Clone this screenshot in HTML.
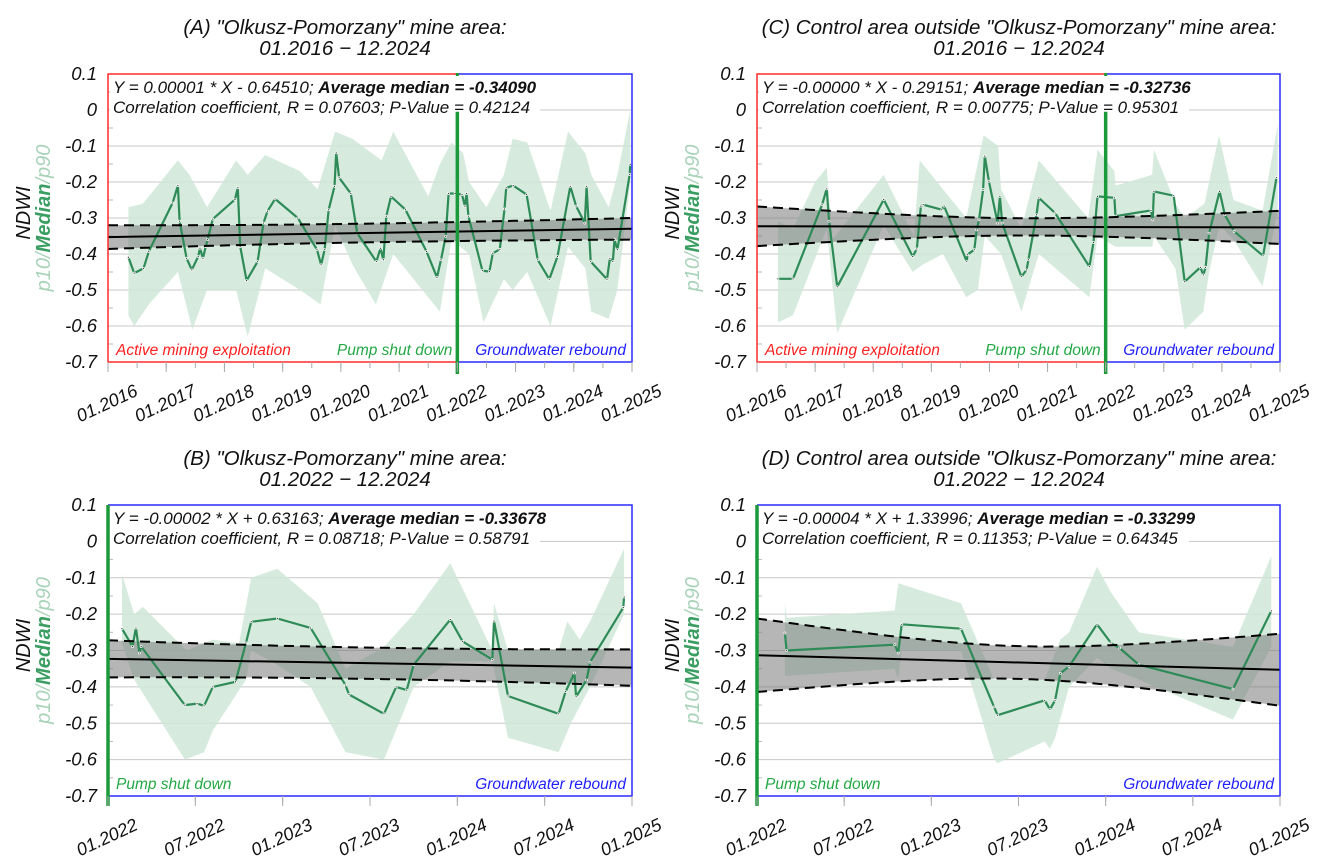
<!DOCTYPE html>
<html><head><meta charset="utf-8">
<style>
html,body{margin:0;padding:0;background:#fff;}
svg{display:block;font-family:"Liberation Sans",Arial,sans-serif;}
</style></head>
<body>
<svg id="chart" width="1325" height="860" viewBox="0 0 1325 860" xmlns="http://www.w3.org/2000/svg"></svg>
<script>
// ===== Panel A data (01.2016 - 12.2024, mine area) =====
const aTimes = [2016.35,2016.45,2016.61,2016.70,2017.11,2017.20,2017.23,2017.35,2017.44,2017.55,2017.58,2017.63,2017.68,2017.71,2017.80,2018.18,2018.23,2018.27,2018.38,2018.57,2018.67,2018.74,2018.87,2019.26,2019.59,2019.66,2019.72,2019.79,2019.89,2019.92,2019.97,2020.17,2020.28,2020.61,2020.68,2020.73,2020.78,2020.86,2021.11,2021.47,2021.65,2021.72,2021.80,2021.85,2021.96,2022.08,2022.13,2022.16,2022.19,2022.43,2022.55,2022.61,2022.73,2022.81,2022.84,2022.96,2023.19,2023.38,2023.58,2023.72,2023.94,2024.04,2024.19,2024.22,2024.29,2024.57,2024.62,2024.67,2024.70,2024.75,2024.96,2024.97];
const aMedian = [-0.409,-0.453,-0.44,-0.393,-0.258,-0.21,-0.309,-0.412,-0.444,-0.407,-0.384,-0.412,-0.379,-0.36,-0.303,-0.249,-0.216,-0.379,-0.474,-0.421,-0.314,-0.281,-0.247,-0.3,-0.388,-0.43,-0.388,-0.277,-0.212,-0.119,-0.188,-0.232,-0.342,-0.421,-0.384,-0.416,-0.295,-0.24,-0.277,-0.393,-0.465,-0.416,-0.351,-0.232,-0.232,-0.235,-0.267,-0.232,-0.295,-0.446,-0.449,-0.398,-0.387,-0.275,-0.216,-0.21,-0.235,-0.416,-0.47,-0.407,-0.212,-0.267,-0.314,-0.212,-0.421,-0.47,-0.412,-0.421,-0.36,-0.388,-0.179,-0.151];
const aP90Times = [2016.35,2016.6,2017.2,2017.4,2017.7,2018.2,2018.4,2018.7,2019.3,2019.6,2019.9,2020.2,2020.7,2020.9,2021.5,2021.7,2021.9,2022.1,2022.2,2022.5,2022.8,2022.95,2023.2,2023.6,2023.9,2024.2,2024.3,2024.6,2024.75,2024.97];
const aP90 = [-0.27,-0.26,-0.14,-0.18,-0.27,-0.14,-0.18,-0.125,-0.17,-0.22,-0.06,-0.08,-0.14,-0.06,-0.24,-0.15,-0.09,-0.12,-0.2,-0.27,-0.18,-0.08,-0.09,-0.28,-0.06,-0.12,-0.18,-0.27,-0.18,0.0];
const aP10Times = [2016.35,2016.45,2016.7,2017.2,2017.45,2017.7,2018.2,2018.4,2018.7,2019.3,2019.65,2019.9,2020.2,2020.6,2020.9,2021.5,2021.7,2021.9,2022.2,2022.45,2022.8,2022.95,2023.2,2023.6,2023.9,2024.2,2024.3,2024.6,2024.75,2024.97];
const aP10 = [-0.57,-0.6,-0.54,-0.45,-0.61,-0.5,-0.5,-0.63,-0.44,-0.5,-0.54,-0.32,-0.43,-0.54,-0.4,-0.52,-0.56,-0.36,-0.4,-0.59,-0.47,-0.5,-0.45,-0.6,-0.38,-0.44,-0.56,-0.58,-0.5,-0.2];
const aReg = [-0.353,-0.330];
const aCI = [0.033,0.026,2020.5,0.030];
// ===== Panel B data (01.2022 - 12.2024, mine area) =====
const bTimes = [2022.08,2022.14,2022.16,2022.18,2022.19,2022.44,2022.51,2022.55,2022.60,2022.73,2022.79,2022.82,2022.97,2023.16,2023.36,2023.38,2023.58,2023.65,2023.71,2023.75,2023.96,2024.03,2024.20,2024.21,2024.29,2024.58,2024.62,2024.67,2024.68,2024.74,2024.76,2024.95,2024.955];
const bMedian = [-0.24,-0.289,-0.238,-0.307,-0.289,-0.45,-0.446,-0.452,-0.4,-0.386,-0.279,-0.221,-0.212,-0.238,-0.395,-0.421,-0.474,-0.4,-0.409,-0.339,-0.215,-0.275,-0.325,-0.219,-0.425,-0.474,-0.413,-0.362,-0.427,-0.381,-0.332,-0.182,-0.153];
const bP90Times = [2022.08,2022.15,2022.2,2022.45,2022.6,2022.75,2022.82,2022.97,2023.2,2023.36,2023.58,2023.75,2023.96,2024.05,2024.2,2024.21,2024.29,2024.58,2024.63,2024.7,2024.76,2024.955];
const bP90 = [-0.09,-0.2,-0.18,-0.3,-0.27,-0.28,-0.1,-0.075,-0.17,-0.35,-0.29,-0.2,-0.06,-0.15,-0.3,-0.17,-0.3,-0.3,-0.22,-0.27,-0.22,-0.02];
const bP10Times = [2022.08,2022.15,2022.44,2022.55,2022.6,2022.79,2022.82,2022.97,2023.16,2023.36,2023.58,2023.75,2023.96,2024.2,2024.29,2024.58,2024.65,2024.76,2024.955];
const bP10 = [-0.28,-0.38,-0.6,-0.58,-0.52,-0.38,-0.3,-0.34,-0.4,-0.58,-0.6,-0.4,-0.33,-0.33,-0.54,-0.58,-0.5,-0.4,-0.2];
const bReg = [-0.323,-0.347];
const bCI = [0.051,0.043,2023.5,0.050];
// ===== Panel C data (01.2016 - 12.2024, control area) =====
const cTimes = [2016.36,2016.62,2017.12,2017.20,2017.24,2017.38,2018.18,2018.68,2018.75,2018.82,2018.86,2019.18,2019.22,2019.61,2019.62,2019.74,2019.78,2019.82,2019.89,2019.92,2019.99,2020.14,2020.18,2020.22,2020.55,2020.64,2020.67,2020.81,2020.85,2021.13,2021.72,2021.79,2021.86,2022.15,2022.17,2022.78,2022.81,2022.83,2023.17,2023.36,2023.63,2023.68,2023.72,2023.78,2023.96,2024.05,2024.21,2024.71,2024.94];
const cMedian = [-0.469,-0.469,-0.263,-0.219,-0.309,-0.491,-0.249,-0.407,-0.386,-0.267,-0.263,-0.277,-0.267,-0.421,-0.402,-0.388,-0.333,-0.305,-0.221,-0.128,-0.198,-0.314,-0.24,-0.314,-0.463,-0.444,-0.416,-0.291,-0.244,-0.286,-0.435,-0.368,-0.24,-0.244,-0.295,-0.279,-0.305,-0.226,-0.238,-0.477,-0.437,-0.458,-0.437,-0.342,-0.226,-0.291,-0.337,-0.405,-0.188];
const cP90Times = [2016.36,2016.62,2017.0,2017.2,2017.3,2018.18,2018.7,2018.8,2019.6,2019.9,2020.15,2020.2,2020.55,2020.85,2021.7,2021.86,2022.15,2022.17,2022.8,2022.83,2023.2,2023.36,2023.7,2023.95,2024.2,2024.7,2024.96];
const cP90 = [-0.31,-0.33,-0.2,-0.16,-0.36,-0.18,-0.35,-0.14,-0.3,-0.07,-0.1,-0.22,-0.33,-0.14,-0.3,-0.11,-0.17,-0.21,-0.18,-0.11,-0.26,-0.3,-0.26,-0.07,-0.25,-0.28,-0.04];
const cP10Times = [2016.36,2016.62,2017.2,2017.38,2018.18,2018.68,2018.85,2019.2,2019.6,2019.8,2019.92,2020.2,2020.55,2020.85,2021.72,2021.86,2022.17,2022.8,2022.83,2023.2,2023.36,2023.68,2023.78,2023.96,2024.2,2024.7,2024.96];
const cP10 = [-0.59,-0.57,-0.33,-0.62,-0.32,-0.45,-0.43,-0.4,-0.52,-0.5,-0.35,-0.4,-0.56,-0.4,-0.52,-0.35,-0.38,-0.38,-0.35,-0.44,-0.61,-0.56,-0.45,-0.32,-0.36,-0.49,-0.28];
const cReg = [-0.323,-0.326];
const cCI = [0.055,0.024,2020.6,0.046];
// ===== Panel D data (01.2022 - 12.2024, control area) =====
const dTimes = [2022.16,2022.17,2022.79,2022.81,2022.83,2023.17,2023.36,2023.38,2023.65,2023.68,2023.71,2023.74,2023.79,2023.95,2024.03,2024.08,2024.19,2024.73,2024.95];
const dMedian = [-0.252,-0.3,-0.284,-0.307,-0.228,-0.24,-0.455,-0.478,-0.437,-0.462,-0.437,-0.363,-0.344,-0.228,-0.279,-0.293,-0.339,-0.406,-0.191];
const dP90Times = [2022.16,2022.17,2022.79,2022.81,2023.17,2023.36,2023.65,2023.74,2023.79,2023.95,2024.03,2024.19,2024.73,2024.95];
const dP90 = [-0.17,-0.21,-0.19,-0.115,-0.17,-0.38,-0.38,-0.27,-0.25,-0.07,-0.14,-0.25,-0.29,-0.04];
const dP10Times = [2022.16,2022.79,2022.81,2022.83,2023.17,2023.36,2023.38,2023.65,2023.68,2023.71,2023.79,2023.95,2024.03,2024.19,2024.73,2024.95];
const dP10 = [-0.37,-0.35,-0.38,-0.3,-0.3,-0.6,-0.61,-0.55,-0.57,-0.54,-0.4,-0.32,-0.35,-0.38,-0.49,-0.29];
const dReg = [-0.313,-0.353];
const dCI = [0.101,0.045,2023.5,0.099];
// ===== Axis tick values =====
const yTicks = [0.1,0,-0.1,-0.2,-0.3,-0.4,-0.5,-0.6,-0.7];
const yTickLabels = ["0.1","0","-0.1","-0.2","-0.3","-0.4","-0.5","-0.6","-0.7"];
const longTicks = [2016,2017,2018,2019,2020,2021,2022,2023,2024,2025];
const longTickLabels = ["01.2016","01.2017","01.2018","01.2019","01.2020","01.2021","01.2022","01.2023","01.2024","01.2025"];
const shortTicks = [2022,2022.5,2023,2023.5,2024,2024.5,2025];
const shortTickLabels = ["01.2022","07.2022","01.2023","07.2023","01.2024","07.2024","01.2025"];

const NS = "http://www.w3.org/2000/svg";
const svg = document.getElementById("chart");
function mk(tag, attrs, parent){
  const e = document.createElementNS(NS, tag);
  for (const k in attrs) e.setAttribute(k, attrs[k]);
  (parent||svg).appendChild(e);
  return e;
}

const panels = [
  {id:"a", x0:108, x1:632, y0:74, y1:362, tx:345, t0:2016, t1:2025, times:aTimes, med:aMedian, upT:aP90Times, up:aP90, loT:aP10Times, lo:aP10, reg:aReg, ci:aCI, ticks:longTicks, tickLabels:longTickLabels, split:2022, long:true,
   title1:'(A) "Olkusz-Pomorzany" mine area:', title2:"01.2016 \u2212 12.2024", eq:"Y = 0.00001 * X - 0.64510; ", avg:"Average median = -0.34090", corr:"Correlation coefficient, R = 0.07603; P-Value = 0.42124"},
  {id:"b", x0:108, x1:632, y0:505, y1:796, tx:345, t0:2022, t1:2025, times:bTimes, med:bMedian, upT:bP90Times, up:bP90, loT:bP10Times, lo:bP10, reg:bReg, ci:bCI, ticks:shortTicks, tickLabels:shortTickLabels, long:false,
   title1:'(B) "Olkusz-Pomorzany" mine area:', title2:"01.2022 \u2212 12.2024", eq:"Y = -0.00002 * X + 0.63163; ", avg:"Average median = -0.33678", corr:"Correlation coefficient, R = 0.08718; P-Value = 0.58791"},
  {id:"c", x0:757, x1:1280, y0:74, y1:362, tx:1019, t0:2016, t1:2025, times:cTimes, med:cMedian, upT:cP90Times, up:cP90, loT:cP10Times, lo:cP10, reg:cReg, ci:cCI, ticks:longTicks, tickLabels:longTickLabels, split:2022, long:true,
   title1:'(C) Control area outside "Olkusz-Pomorzany" mine area:', title2:"01.2016 \u2212 12.2024", eq:"Y = -0.00000 * X - 0.29151; ", avg:"Average median = -0.32736", corr:"Correlation coefficient, R = 0.00775; P-Value = 0.95301"},
  {id:"d", x0:757, x1:1280, y0:505, y1:796, tx:1019, t0:2022, t1:2025, times:dTimes, med:dMedian, upT:dP90Times, up:dP90, loT:dP10Times, lo:dP10, reg:dReg, ci:dCI, ticks:shortTicks, tickLabels:shortTickLabels, long:false,
   title1:'(D) Control area outside "Olkusz-Pomorzany" mine area:', title2:"01.2022 \u2212 12.2024", eq:"Y = -0.00004 * X + 1.33996; ", avg:"Average median = -0.33299", corr:"Correlation coefficient, R = 0.11353; P-Value = 0.64345"}
];

panels.forEach(p => {
  const sx = t => p.x0 + (t - p.t0) / (p.t1 - p.t0) * (p.x1 - p.x0);
  const sy = v => p.y0 + (0.1 - v) / 0.8 * (p.y1 - p.y0);
  const g = mk("g", {});
  
  

  const t1 = mk("text", {x:p.tx, y:p.y0-40, "text-anchor":"middle", "font-size":"20.5", "font-style":"italic", fill:"#111"}, g);
  t1.textContent = p.title1;
  
  
  const t2 = mk("text", {x:p.tx, y:p.y0-19, "text-anchor":"middle", "font-size":"20.5", "font-style":"italic", fill:"#111"}, g);
  t2.textContent = p.title2;
  
  

  yTicks.forEach((v, i) => {
    const l = mk("line", {x1:p.x0, x2:p.x1, y1:sy(v), y2:sy(v), stroke:"#c8c8c8", "stroke-width":1}, g);
    
    
    const lab = mk("text", {x:p.x0-11, y:sy(v)+6, "text-anchor":"end", "font-size":"18.5", "font-style":"italic", fill:"#111"}, g);
    lab.textContent = yTickLabels[i];
    
    
  });
  for (let v = 0.05; v > -0.7; v -= 0.1) {
    mk("line", {x1:p.x0, x2:p.x0+5, y1:sy(v), y2:sy(v), stroke:"#bbb", "stroke-width":1}, g);
  }

  let pts = [];
  p.upT.forEach((t, i) => pts.push(sx(t).toFixed(1) + "," + sy(p.up[i]).toFixed(1)));
  for (let i = p.loT.length - 1; i >= 0; i--) pts.push(sx(p.loT[i]).toFixed(1) + "," + sy(p.lo[i]).toFixed(1));
  const band = mk("polygon", {points:pts.join(" "), fill:"#cfe8d8", "fill-opacity":"0.85"}, g);
  
  

  const hw = t => {
    const [L, m, tc, R] = p.ci;
    const e = t < tc ? L : R;
    const ref = t < tc ? p.t0 : p.t1;
    const f = (t - tc) / (ref - tc);
    return Math.sqrt(m*m + (e*e - m*m) * f * f);
  };
  const fit = t => p.reg[0] + (p.reg[1] - p.reg[0]) * (t - p.t0) / (p.t1 - p.t0);
  const N = 40, upP = [], loP = [];
  for (let k = 0; k <= N; k++) {
    const t = p.t0 + (p.t1 - p.t0) * k / N;
    upP.push(sx(t).toFixed(1) + "," + sy(fit(t) + hw(t)).toFixed(1));
    loP.push(sx(t).toFixed(1) + "," + sy(fit(t) - hw(t)).toFixed(1));
  }
  const ciFill = mk("polygon", {points:upP.concat(loP.slice().reverse()).join(" "), fill:"#7a7a7a", "fill-opacity":"0.55"}, g);
  
  

  const mp = p.times.map((t, i) => sx(t).toFixed(1) + "," + sy(p.med[i]).toFixed(1)).join(" ");
  const ml = mk("polyline", {points:mp, fill:"none", stroke:"#2e8b57", "stroke-width":2.2, "stroke-linejoin":"round"}, g);
  
  
  p.times.forEach((t, i) => {
    const d = mk("circle", {cx:sx(t), cy:sy(p.med[i]), r:1.4, fill:"#fff"}, g);
    
    
    mk("circle", {cx:sx(t), cy:sy(p.med[i]), r:0.6, fill:"#222"}, g);
  });

  const ciU = mk("polyline", {points:upP.join(" "), fill:"none", stroke:"#000", "stroke-width":2, "stroke-dasharray":"10,6"}, g);
  
  
  const ciL = mk("polyline", {points:loP.join(" "), fill:"none", stroke:"#000", "stroke-width":2, "stroke-dasharray":"10,6"}, g);
  
  
  const rl = mk("line", {x1:sx(p.t0), x2:sx(p.t1), y1:sy(fit(p.t0)), y2:sy(fit(p.t1)), stroke:"#000", "stroke-width":2}, g);
  
  

  mk("rect", {x:p.x0+2, y:p.y0+2, width:430, height:sy(-0.01)-p.y0-2, fill:"#fff"}, g);
  const e1 = mk("text", {x:p.x0+5, y:p.y0+19, "font-size":"17", "font-style":"italic", fill:"#111"}, g);
  
  
  const s1 = mk("tspan", {}, e1); s1.textContent = p.eq;
  const s2 = mk("tspan", {"font-weight":"bold"}, e1); s2.textContent = p.avg;
  const e2 = mk("text", {x:p.x0+5, y:p.y0+39, "font-size":"17", "font-style":"italic", fill:"#111"}, g);
  e2.textContent = p.corr;
  
  

  if (p.long) {
    const xs = sx(p.split);
    mk("polyline", {points:`${xs},${p.y0} ${p.x0},${p.y0} ${p.x0},${p.y1} ${xs},${p.y1}`, fill:"none", stroke:"#ff2a2a", "stroke-width":1.5}, g);
    mk("polyline", {points:`${xs},${p.y0} ${p.x1},${p.y0} ${p.x1},${p.y1} ${xs},${p.y1}`, fill:"none", stroke:"#2a2aff", "stroke-width":1.5}, g);
    const gl = mk("line", {x1:xs, x2:xs, y1:sy(-0.005), y2:p.y1+12, stroke:"#1a9a3a", "stroke-width":3.5}, g);
    
    
    mk("rect", {x:xs-1.5, y:p.y0-1, width:3, height:3, fill:"#1a9a3a"}, g);
    const a = mk("text", {x:p.x0+8, y:p.y1-7, "font-size":"15.5", "font-style":"italic", fill:"#ff2020"}, g);
    a.textContent = "Active mining exploitation";
    
    
    const ps = mk("text", {x:xs-5, y:p.y1-7, "text-anchor":"end", "font-size":"15.5", "font-style":"italic", fill:"#22a845"}, g);
    ps.textContent = "Pump shut down";
    
    
  } else {
    mk("polyline", {points:`${p.x0},${p.y0} ${p.x1},${p.y0} ${p.x1},${p.y1} ${p.x0},${p.y1}`, fill:"none", stroke:"#2a2aff", "stroke-width":1.5}, g);
    const gl = mk("line", {x1:p.x0, x2:p.x0, y1:p.y0, y2:p.y1+10, stroke:"#1a9a3a", "stroke-width":3.5}, g);
    
    
    const ps = mk("text", {x:p.x0+8, y:p.y1-7, "font-size":"15.5", "font-style":"italic", fill:"#22a845"}, g);
    ps.textContent = "Pump shut down";
    
    
  }
  const gw = mk("text", {x:p.x1-6, y:p.y1-7, "text-anchor":"end", "font-size":"15.5", "font-style":"italic", fill:"#2020ff"}, g);
  gw.textContent = "Groundwater rebound";
  
  

  for (let t = p.t0; t <= p.t1 + 1e-9; t += 0.5) {
    mk("line", {x1:sx(t), x2:sx(t), y1:p.y1, y2:p.y1+6, stroke:"#aaa", "stroke-width":1}, g);
  }
  p.ticks.forEach((t, i) => {
    mk("line", {x1:sx(t), x2:sx(t), y1:p.y1, y2:p.y1+10, stroke:"#aaa", "stroke-width":1}, g);
    const x = sx(t) + 31, y = p.y1 + 33;
    const lab = mk("text", {x:x, y:y, "text-anchor":"end", "font-size":"18", "font-style":"italic", fill:"#111", transform:`rotate(-25 ${x} ${y})`}, g);
    lab.textContent = p.tickLabels[i];
    
    
  });

  const ym = (p.y0 + p.y1) / 2 - 5;
  const yt = mk("text", {x:0, y:0, "text-anchor":"middle", "font-size":"20", "font-style":"italic", fill:"#111", transform:`translate(${p.x0-78} ${ym}) rotate(-90)`}, g);
  yt.textContent = "NDWI";
  
  
  const yt2 = mk("text", {x:0, y:0, "text-anchor":"middle", "font-size":"20", "font-style":"italic", fill:"#a9d3b9", transform:`translate(${p.x0-58} ${ym+5}) rotate(-90)`}, g);
  
  
  const a1 = mk("tspan", {}, yt2); a1.textContent = "p10/";
  const a2 = mk("tspan", {"font-weight":"bold", fill:"#3a9e62"}, yt2); a2.textContent = "Median";
  const a3 = mk("tspan", {}, yt2); a3.textContent = "/p90";
});
</script>
</body></html>
